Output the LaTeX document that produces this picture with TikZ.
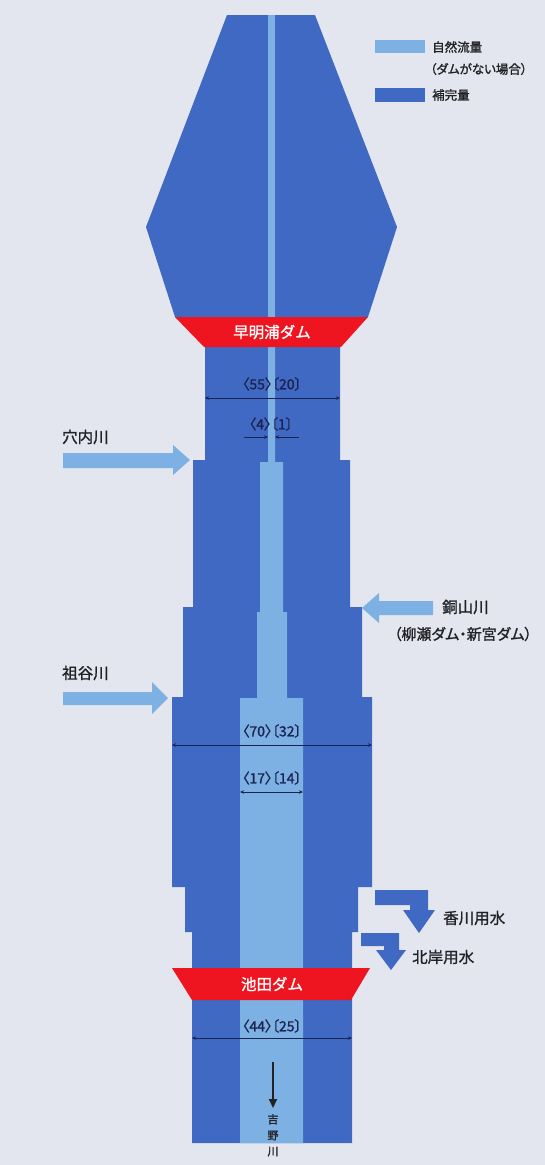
\documentclass[tikz,border=0pt]{standalone}
\usepackage{fontspec}
\setmainfont[AutoFakeBold=1.3]{Noto Sans CJK JP}
\newfontfamily\numfont[AutoFakeBold=1.2,RawFeature={+palt}]{Noto Sans CJK JP}
\newfontfamily\paltfont[AutoFakeBold=1.3,RawFeature={+palt}]{Noto Sans CJK JP}
\usetikzlibrary{arrows.meta}
\definecolor{bg}{HTML}{E3E6EE}
\definecolor{dblue}{HTML}{3F69C3}
\definecolor{lblue}{HTML}{7DB0E3}
\definecolor{dred}{HTML}{EE1520}
\definecolor{dimc}{HTML}{1B2350}
\definecolor{txt}{HTML}{222226}
\tikzset{
  lbl/.style={font=\fontsize{15.5}{18}\selectfont\bfseries, text=txt, inner sep=0pt},
  leg/.style={font=\fontsize{12.5}{14}\selectfont\bfseries, text=txt, inner sep=0pt, anchor=west},
  num/.style={font=\numfont\fontsize{14}{16}\selectfont\bfseries, text=dimc, inner sep=0pt},
  damtxt/.style={font=\fontsize{15.5}{18}\selectfont\bfseries, text=white, inner sep=0pt},
  dimline/.style={draw=dimc, line width=0.9pt, {Stealth[length=4pt,width=3.5pt]}-{Stealth[length=4pt,width=3.5pt]}},
  dimhalf/.style={draw=dimc, line width=0.9pt, -{Stealth[length=4pt,width=3.5pt]}},
  inflow/.style={fill=lblue},
  outflow/.style={fill=dblue}
}
\begin{document}
\begin{tikzpicture}[x=1pt,y=-1pt]
\fill[bg] (0,0) rectangle (545,1165);
\useasboundingbox (0,0) rectangle (545,1165);

% upper reservoir (hexagon)
\fill[dblue] (227,15) -- (315,15) -- (397,227) -- (368,317) -- (175,317) -- (146,227) -- cycle;
\fill[lblue] (268,15) rectangle (275,317);

% river column
\fill[dblue] (205,347) -- (340,347) -- (340,460) -- (350,460) -- (350,607) -- (362,607)
  -- (362,697) -- (372,697) -- (372,887) -- (358,887) -- (358,932) -- (352,932)
  -- (352,1143) -- (192,1143) -- (192,932) -- (185,932) -- (185,887) -- (172,887)
  -- (172,697) -- (183,697) -- (183,607) -- (193,607) -- (193,460) -- (205,460) -- cycle;
% natural flow strip
\fill[lblue] (268,345) -- (275,345) -- (275,462) -- (283,462) -- (283,612) -- (287,612)
  -- (287,698) -- (303,698) -- (303,1143) -- (240,1143) -- (240,698) -- (257,698)
  -- (257,612) -- (260,612) -- (260,462) -- (268,462) -- cycle;

% dams
\fill[dred] (175,317) -- (368,317) -- (341,347) -- (204,347) -- cycle;
\node[damtxt] (sameura) at (272,332) {早明浦ダム};
\fill[dred] (172,968) -- (370,968) -- (351,1000) -- (192,1000) -- cycle;
\node[damtxt] (ikeda) at (272,984) {池田ダム};

% dimension 55/20
\node[num] (n1) at (272,384) {〈55〉〔20〕};
\coordinate (d1l) at (205,398); \coordinate (d1r) at (340,398);
\draw[dimline] (d1l) -- (d1r);
% dimension 4/1
\node[num] (n2) at (271,424) {〈4〉〔1〕};
\coordinate (d2a) at (244,437); \coordinate (d2b) at (268,437);
\coordinate (d2c) at (299,437); \coordinate (d2d) at (275,437);
\draw[dimhalf] (d2a) -- (d2b);
\draw[dimhalf] (d2c) -- (d2d);
% dimension 70/32
\node[num] (n3) at (272,731) {〈70〉〔32〕};
\coordinate (d3l) at (172,745); \coordinate (d3r) at (372,745);
\draw[dimline] (d3l) -- (d3r);
% dimension 17/14
\node[num] (n4) at (272,778) {〈17〉〔14〕};
\coordinate (d4l) at (240,792); \coordinate (d4r) at (303,792);
\draw[dimline] (d4l) -- (d4r);
% dimension 44/25
\node[num] (n5) at (272,1026) {〈44〉〔25〕};
\coordinate (d5l) at (192,1038); \coordinate (d5r) at (352,1038);
\draw[dimline] (d5l) -- (d5r);

% inflow arrows
\fill[inflow] (63,453) -- (173,453) -- (173,445) -- (190,460) -- (173,475) -- (173,468) -- (63,468) -- cycle;
\node[lbl, anchor=west] (anai) at (62,437) {穴内川};
\fill[inflow] (63,692) -- (152,692) -- (152,682) -- (168,698) -- (152,714) -- (152,705) -- (63,705) -- cycle;
\node[lbl, anchor=west] (iya) at (62,673) {祖谷川};
\fill[inflow] (362,608) -- (379,593) -- (379,601) -- (433,601) -- (433,615) -- (379,615) -- (379,623) -- cycle;
\node[lbl, anchor=west] (dozan) at (442,607) {銅山川};
\node[lbl, font=\paltfont\fontsize{15}{18}\selectfont\bfseries] (dozan2) at (463,634) {（柳瀬ダム・新宮ダム）};

% outflow arrows
\fill[outflow] (375,890) -- (428,890) -- (428,910) -- (435,910) -- (419,933) -- (403,910) -- (410,910) -- (410,905) -- (375,905) -- cycle;
\node[lbl, anchor=west] (kagawa) at (443,918) {香川用水};
\fill[outflow] (361,933) -- (399,933) -- (399,950) -- (406,950) -- (391,970) -- (376,950) -- (384,950) -- (384,946) -- (361,946) -- cycle;
\node[lbl, anchor=west] (hokugan) at (412,957) {北岸用水};

% downstream arrow and river name
\coordinate (da) at (273,1062); \coordinate (db) at (273,1108);
\draw[line width=1.8pt, txt, -{Triangle[length=9pt,width=8pt]}] (da) -- (db);
\node[font=\fontsize{11}{16}\selectfont\bfseries, text=txt, align=center, inner sep=0pt, anchor=north] (yoshino) at (273,1114) {吉\\野\\川};

% legend
\fill[lblue] (375,40) rectangle (425,53);
\node[leg] (leg1) at (432,47) {自然流量};
\node[leg, font=\paltfont\fontsize{12.5}{14}\selectfont\bfseries] (leg1b) at (430,69) {（ダムがない場合）};
\fill[dblue] (375,88) rectangle (425,102);
\node[leg] (leg2) at (432,95) {補完量};
\end{tikzpicture}
\end{document}
